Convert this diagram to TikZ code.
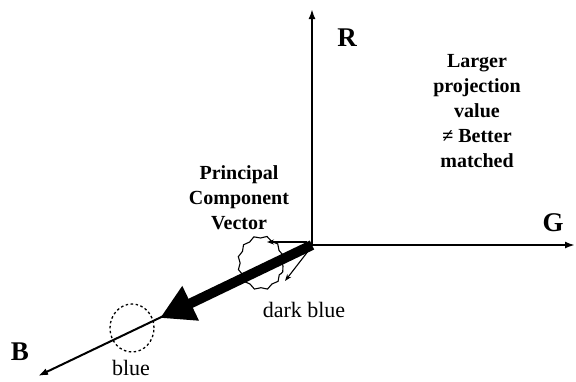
\documentclass[tikz,border=0pt]{standalone}
\usepackage{fontspec}
\setmainfont{Liberation Serif}
\usetikzlibrary{arrows.meta,decorations.pathmorphing}
\begin{document}
\begin{tikzpicture}[x=1pt,y=-1pt,
  axis/.style={line width=2pt,-{Latex[length=10pt,width=7pt]}},
  thinarrow/.style={line width=1.1pt,-{Stealth[length=7pt,width=5pt]}},
  bigarrow/.style={line width=10pt,-{Triangle[length=34pt,width=36pt]}},
  axlbl/.style={font=\bfseries\fontsize{27}{27}\selectfont,inner sep=0pt},
  txt/.style={font=\bfseries\fontsize{20}{25}\selectfont,align=center,inner sep=0pt},
  plainlbl/.style={font=\fontsize{22}{22}\selectfont,inner sep=0pt},
  wavy/.style={line width=1.1pt,decorate,decoration={snake,amplitude=1.2pt,segment length=12.5pt}},
  dashcirc/.style={line width=1.3pt,dash pattern=on 2.5pt off 2.5pt}
]
\useasboundingbox (0,0) rectangle (576,381);
\coordinate (O) at (312,245);
\coordinate (Rend) at (312,9);
\coordinate (Gend) at (575,245);
\coordinate (Bend) at (38,376);
\coordinate (Ptip) at (160,318);
\coordinate (a1s) at (307,242);
\coordinate (a1e) at (267,242);
\coordinate (a2s) at (309,250);
\coordinate (a2e) at (285,281);
% circles
\draw[wavy] (261,266) ellipse [x radius=22pt, y radius=26pt];
\draw[dashcirc] (132,328) ellipse [x radius=22pt, y radius=24pt];
% axes
\draw[axis] (O) -- (Rend);
\draw[axis] (O) -- (Gend);
\draw[axis] (O) -- (Bend);
% principal component vector
\draw[bigarrow] (O) -- (Ptip);
% small arrows
\draw[thinarrow] (a1s) -- (a1e);
\draw[thinarrow] (a2s) -- (a2e);
% labels
\node[axlbl] (R) at (347,38) {R};
\node[axlbl] (G) at (553,223) {G};
\node[axlbl] (B) at (20,352) {B};
\node[txt] (pcv) at (239,198) {Principal\\Component\\Vector};
\node[txt] (lpv) at (477,111) {Larger\\projection\\value\\≠ Better\\matched};
\node[plainlbl] (db) at (304,310) {dark blue};
\node[plainlbl] (bl) at (131,368) {blue};
\end{tikzpicture}
\end{document}
